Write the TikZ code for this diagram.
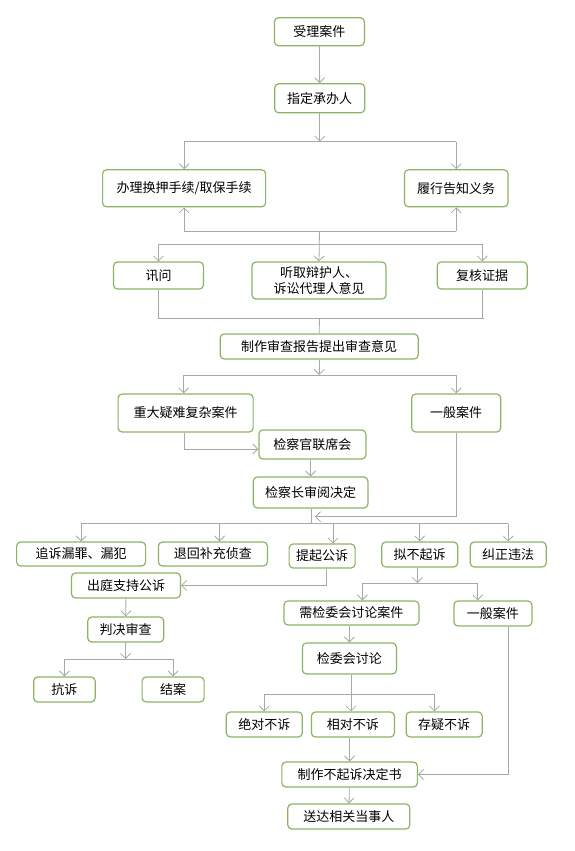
\documentclass[tikz,border=0pt]{standalone}
\usepackage{fontspec}
\setmainfont{Noto Sans CJK SC}
\usetikzlibrary{arrows.meta,calc}
\definecolor{boxgreen}{RGB}{141,180,100}
\definecolor{linegray}{RGB}{168,168,168}
\tikzset{
  box/.style={draw=boxgreen, line width=1.2pt, rounded corners=4pt, fill=white,
    inner sep=0pt, align=center, font=\fontsize{13}{16}\selectfont},
  conn/.style={draw=linegray, line width=0.8pt},
  arr/.style={conn, -{Straight Barb[length=5pt,width=10pt,line width=0.8pt]}}
}
\begin{document}
\begin{tikzpicture}[x=1pt,y=-1pt]
\useasboundingbox[fill=white] (0,0) rectangle (574,851);
% nodes
\node[box,minimum width=90pt,minimum height=28pt] (shouli) at (319.4,31.7) {受理案件};
\node[box,minimum width=90pt,minimum height=29pt] (zhiding) at (319.7,98.3) {指定承办人};
\node[box,minimum width=163pt,minimum height=37pt] (banli) at (184.1,188.3) {办理换押手续/取保手续};
\node[box,minimum width=103.5pt,minimum height=37pt] (lvxing) at (456.2,188.3) {履行告知义务};
\node[box,minimum width=90pt,minimum height=27pt] (xunwen) at (158.5,275.5) {讯问};
\node[box,minimum width=134pt,minimum height=37pt] (tingqu) at (319,280.5) {听取辩护人、\\诉讼代理人意见};
\node[box,minimum width=90pt,minimum height=27pt] (fuhe) at (482.2,275.5) {复核证据};
\node[box,minimum width=198pt,minimum height=25pt] (zhizuo) at (319.2,346.5) {制作审查报告提出审查意见};
\node[box,minimum width=135pt,minimum height=38pt] (zhongda) at (185.6,413) {重大疑难复杂案件};
\node[box,minimum width=89pt,minimum height=38pt] (yiban1) at (456.2,413) {一般案件};
\node[box,minimum width=107pt,minimum height=29pt] (lianxi) at (312.4,444.5) {检察官联席会};
\node[box,minimum width=114.6pt,minimum height=31pt] (jcz) at (310.6,492.5) {检察长审阅决定};
\node[box,minimum width=129pt,minimum height=24pt] (zhuisu) at (81.1,554) {追诉漏罪、漏犯};
\node[box,minimum width=109pt,minimum height=24pt] (tuihui) at (212.9,554) {退回补充侦查};
\node[box,minimum width=66pt,minimum height=24pt] (tiqi) at (322.1,556) {提起公诉};
\node[box,minimum width=76pt,minimum height=25pt] (nibu) at (419.7,554.5) {拟不起诉};
\node[box,minimum width=76pt,minimum height=25pt] (jiuzheng) at (508.2,554.5) {纠正违法};
\node[box,minimum width=109pt,minimum height=25pt] (chuting) at (126,585.5) {出庭支持公诉};
\node[box,minimum width=76pt,minimum height=25pt] (panjue) at (125.7,629.5) {判决审查};
\node[box,minimum width=61.5pt,minimum height=25pt] (kangsu) at (64.4,689.5) {抗诉};
\node[box,minimum width=62pt,minimum height=25pt] (jiean) at (173.1,689.5) {结案};
\node[box,minimum width=135pt,minimum height=24pt] (xujian) at (351.4,613) {需检委会讨论案件};
\node[box,minimum width=78pt,minimum height=25pt] (yiban2) at (492.9,613.5) {一般案件};
\node[box,minimum width=94pt,minimum height=31pt] (jianwei) at (349.4,658.5) {检委会讨论};
\node[box,minimum width=76pt,minimum height=25pt] (juedui) at (264.3,724.5) {绝对不诉};
\node[box,minimum width=83pt,minimum height=25pt] (xiangdui) at (352.9,724.5) {相对不诉};
\node[box,minimum width=76pt,minimum height=25pt] (cunyi) at (444.2,724.5) {存疑不诉};
\node[box,minimum width=135.5pt,minimum height=25pt] (zhizuobu) at (349.6,774.5) {制作不起诉决定书};
\node[box,minimum width=122pt,minimum height=25pt] (songda) at (348.8,816.5) {送达相关当事人};
% junction coordinates
\coordinate (j1) at (319.7,141.7);
\coordinate (j2) at (319.5,231);
\coordinate (j3) at (319.5,244);
\coordinate (j4) at (319.5,318);
\coordinate (j5) at (319.2,375);
\coordinate (j6) at (311,523.5);
\coordinate (j7) at (315,516.7);
\coordinate (j8) at (125.5,659);
\coordinate (j9) at (417.3,583);
\coordinate (j10) at (351,694);
\coordinate (tu) at ($(tuihui.north)+(6.7,0)$);
\coordinate (tq) at ($(tiqi.north)+(10.9,0)$);
\coordinate (tqs) at ($(tiqi.south)+(4.4,0)$);
\coordinate (xj) at ($(xujian.north)+(11,0)$);
\coordinate (yb) at ($(yiban2.north)+(-15.2,0)$);
\coordinate (ybs) at ($(yiban2.south)+(15.1,0)$);
\coordinate (cy) at ($(cunyi.north)+(-9.7,0)$);
\coordinate (lx) at ($(lianxi.west)+(0,4.5)$);
% connectors
\draw[arr] (shouli) -- (zhiding);
\draw[arr] (zhiding) -- (j1);
\draw[conn] (banli.north |- j1) -- (lvxing.north |- j1);
\draw[arr] (banli.north |- j1) -- (banli.north);
\draw[arr] (lvxing.north |- j1) -- (lvxing.north);
\draw[conn] (banli.south |- j2) -- (lvxing.south |- j2);
\draw[arr] (banli.south |- j2) -- (banli.south);
\draw[arr] (lvxing.south |- j2) -- (lvxing.south);
\draw[conn] (xunwen.north |- j3) -- (fuhe.north |- j3);
\draw[arr] (j2) -- (tingqu.north);
\draw[arr] (xunwen.north |- j3) -- (xunwen.north);
\draw[arr] (fuhe.north |- j3) -- (fuhe.north);
\draw[conn] (xunwen.south) -- (xunwen.south |- j4) -- ($(fuhe.south |- j4)+(2,0)$);
\draw[conn] (fuhe.south) -- (fuhe.south |- j4);
\draw[conn] (j4) -- (zhizuo.north);
\draw[arr] (zhizuo) -- (j5);
\draw[conn] ($(zhongda.north |- j5)+(-1.9,0)$) -- (yiban1.north |- j5);
\draw[arr] ($(zhongda.north |- j5)+(-1.9,0)$) -- ($(zhongda.north)+(-1.9,0)$);
\draw[arr] (yiban1.north |- j5) -- (yiban1.north);
\draw[arr] ($(zhongda.south)+(-0.8,0)$) |- (lx);
\draw[arr] (lianxi.south -| jcz) -- (jcz.north);
\draw[conn] (jcz.south -| j6) -- (j6);
\draw[conn] (zhuisu.north |- j6) -- (jiuzheng.north |- j6);
\draw[arr] (yiban1.south) |- (j7);
\draw[arr] (zhuisu.north |- j6) -- (zhuisu.north);
\draw[arr] (tu |- j6) -- (tu);
\draw[arr] (tq |- j6) -- (tq);
\draw[arr] (nibu.north |- j6) -- (nibu.north);
\draw[arr] (jiuzheng.north |- j6) -- (jiuzheng.north);
\draw[arr] (tqs) |- (chuting.east);
\draw[arr] (chuting) -- (panjue);
\draw[arr] (panjue) -- (j8);
\draw[conn] (kangsu.north |- j8) -- (jiean.north |- j8);
\draw[arr] (kangsu.north |- j8) -- (kangsu.north);
\draw[arr] (jiean.north |- j8) -- (jiean.north);
\draw[arr] (nibu.south -| j9) -- (j9);
\draw[conn] (xj |- j9) -- (yb |- j9);
\draw[arr] (xj |- j9) -- (xj);
\draw[arr] (yb |- j9) -- (yb);
\draw[arr] (xujian.south -| jianwei) -- (jianwei.north);
\draw[conn] (juedui.north |- j10) -- (cy |- j10);
\draw[arr] (jianwei.south -| j10) -- (xiangdui.north -| j10);
\draw[arr] (juedui.north |- j10) -- (juedui.north);
\draw[arr] (cy |- j10) -- (cy);
\draw[arr] (xiangdui.south -| zhizuobu) -- (zhizuobu.north);
\draw[arr] (ybs) |- (zhizuobu.east);
\draw[arr] (zhizuobu) -- (songda);
\end{tikzpicture}
\end{document}
